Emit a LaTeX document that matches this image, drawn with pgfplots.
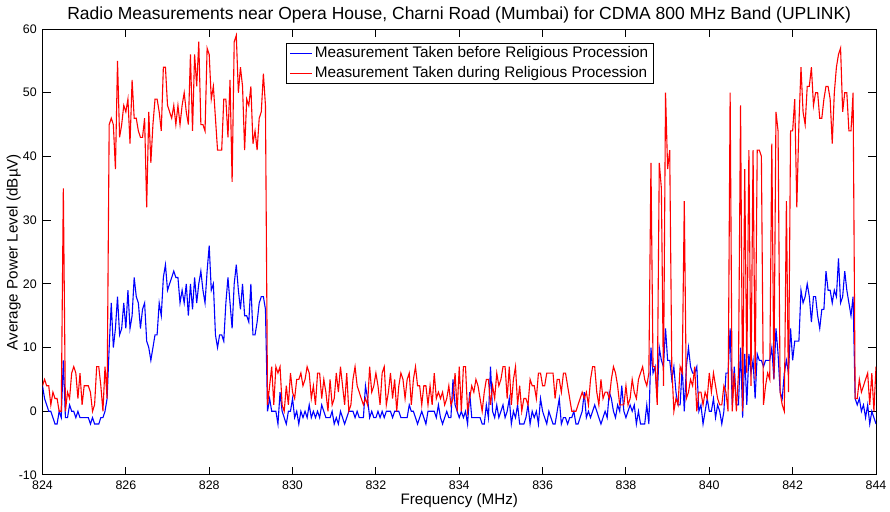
\documentclass[border=0pt]{standalone}
\usepackage{fontspec}
\setmainfont{Liberation Sans}
\usepackage{pgfplots}
\usepackage{pgfplotstable}
\pgfplotsset{compat=1.18}

% Measurement before the procession (blue), one value every 0.05 MHz from 824 MHz
\pgfplotstableread[row sep=\\]{
v\\
4\\2\\1\\0\\0\\-1\\-2\\-2\\0\\-1\\8\\-1\\-1\\1\\0\\0\\-1\\0\\-1\\-1\\-1\\-1\\-1\\-2\\-1\\-2\\-2\\-2\\-1\\-1\\0\\2\\
10\\17\\10\\13\\18\\12\\13\\17\\13\\19\\13\\15\\21\\18\\17\\13\\16\\17\\11\\10\\8\\10\\12\\12\\17\\15\\21\\23\\19\\
20\\
21\\22\\21\\21\\17\\19\\17\\20\\15\\20\\16\\21\\17\\20\\22\\19\\17\\22\\26\\19\\20\\12\\10\\12\\12\\11\\17\\21\\17\\13\\20\\23\\19\\16\\20\\15\\15\\14\\20\\12\\12\\14\\17\\18\\18\\16\\
0\\2\\0\\0\\0\\-2\\3\\0\\-1\\-2\\0\\0\\2\\-1\\0\\-2\\0\\-1\\0\\-1\\1\\-1\\0\\-1\\0\\-1\\1\\0\\-1\\-1\\-1\\0\\-2\\-1\\-2\\0\\-1\\-2\\-1\\0\\0\\0\\-1\\0\\
-1\\
-1\\-1\\4\\2\\-1\\0\\-1\\-1\\0\\-1\\0\\-1\\0\\0\\0\\-1\\0\\0\\0\\-1\\
-1\\-1\\-1\\1\\0\\0\\-1\\-2\\-1\\0\\-1\\-2\\0\\0\\0\\0\\-1\\1\\-1\\-2\\-1\\0\\-1\\-1\\5\\1\\0\\-1\\0\\-1\\0\\-2\\3\\-1\\-1\\-1\\-1\\-1\\-2\\-2\\1\\-1\\7\\0\\-1\\1\\-1\\0\\1\\-1\\0\\2\\-2\\0\\-1\\1\\-2\\-2\\-2\\-1\\1\\
-2\\0\\-1\\0\\-2\\2\\0\\-1\\-2\\0\\-1\\-2\\-2\\0\\2\\-2\\-1\\-1\\-2\\
-1\\
-1\\0\\-2\\-2\\-1\\0\\3\\-1\\0\\-1\\0\\1\\0\\-1\\-2\\-1\\0\\-1\\3\\2\\0\\-1\\1\\0\\4\\0\\-1\\0\\1\\0\\1\\-2\\0\\
-2\\-2\\-2\\1\\-2\\10\\6\\7\\2\\10\\8\\7\\13\\8\\8\\5\\7\\3\\1\\1\\7\\0\\7\\10\\7\\6\\6\\7\\0\\1\\-2\\0\\2\\0\\0\\2\\-1\\1\\0\\-2\\0\\6\\6\\13\\
1\\7\\1\\1\\10\\-1\\9\\1\\9\\6\\8\\2\\9\\8\\8\\7\\
8\\
8\\8\\10\\5\\13\\9\\3\\2\\6\\8\\6\\13\\8\\11\\11\\11\\19\\17\\18\\20\\18\\14\\18\\18\\15\\13\\16\\16\\22\\19\\19\\17\\19\\18\\24\\17\\18\\22\\19\\17\\15\\18\\2\\1\\2\\0\\1\\-1\\1\\-2\\0\\-1\\-2\\
}\bluetab

% Measurement during the procession (red)
\pgfplotstableread[row sep=\\]{
v\\
4\\5\\4\\4\\1\\3\\2\\2\\0\\0\\35\\0\\3\\2\\6\\7\\6\\2\\6\\1\\4\\4\\4\\3\\0\\1\\7\\7\\4\\0\\7\\2\\
45\\46\\45\\38\\55\\43\\45\\48\\47\\49\\42\\52\\46\\46\\44\\43\\43\\46\\32\\47\\39\\45\\49\\49\\47\\44\\54\\54\\48\\
47\\
46\\48\\45\\48\\45\\48\\50\\47\\45\\56\\44\\56\\51\\58\\45\\45\\44\\57\\56\\49\\51\\46\\41\\41\\41\\49\\49\\43\\52\\36\\58\\59\\50\\54\\51\\41\\49\\48\\51\\42\\44\\41\\46\\47\\53\\48\\
1\\4\\7\\1\\7\\6\\7\\1\\0\\4\\1\\6\\3\\2\\5\\5\\6\\4\\5\\7\\6\\2\\4\\1\\6\\6\\2\\5\\3\\0\\5\\1\\2\\6\\3\\7\\4\\1\\6\\0\\1\\5\\7\\4\\
3\\
2\\1\\2\\1\\7\\3\\4\\6\\4\\1\\6\\7\\1\\3\\6\\2\\5\\0\\4\\6\\
5\\2\\5\\6\\1\\5\\7\\4\\4\\1\\4\\4\\1\\4\\1\\6\\2\\3\\2\\3\\1\\2\\4\\1\\2\\6\\0\\7\\0\\7\\7\\0\\2\\4\\3\\5\\4\\2\\0\\3\\5\\5\\1\\4\\2\\6\\4\\5\\7\\7\\2\\7\\1\\5\\7\\1\\4\\0\\2\\2\\1\\
5\\4\\4\\2\\6\\6\\4\\4\\6\\6\\6\\6\\2\\5\\5\\3\\6\\6\\4\\
2\\
0\\0\\0\\1\\2\\3\\2\\3\\1\\5\\7\\7\\3\\1\\5\\2\\3\\3\\2\\5\\7\\6\\4\\1\\1\\1\\4\\1\\2\\5\\3\\2\\5\\
6\\7\\5\\4\\6\\39\\7\\7\\1\\39\\35\\4\\50\\38\\41\\7\\0\\2\\1\\7\\6\\33\\2\\3\\5\\4\\7\\0\\3\\3\\1\\3\\2\\6\\3\\6\\4\\2\\1\\1\\4\\3\\0\\50\\
0\\6\\0\\6\\48\\0\\38\\6\\41\\4\\41\\5\\41\\41\\40\\1\\
4\\
6\\5\\42\\5\\47\\44\\3\\1\\0\\33\\3\\44\\44\\49\\32\\45\\54\\47\\45\\51\\51\\54\\48\\50\\50\\46\\46\\49\\51\\51\\49\\42\\50\\54\\56\\57\\47\\50\\50\\44\\44\\50\\2\\2\\5\\3\\4\\5\\6\\1\\6\\0\\7\\
}\redtab

\begin{document}
\begin{tikzpicture}
\begin{axis}[
  scale only axis,
  width=416.75pt, height=223pt,
  xmin=824, xmax=844, ymin=-10, ymax=60,
  xtick={824,826,...,844},
  ytick={-10,0,...,60},
  tick align=inside,
  major tick length=4.2pt,
  tick style={black, line width=0.5pt},
  axis line style={black, line width=0.5pt},
  /pgf/number format/assume math mode=true,
  /pgf/number format/1000 sep={},
  ticklabel style={font=\fontsize{6.2}{7.5}\selectfont},
  xticklabel style={anchor=base, yshift=-7.2pt},
  yticklabel style={anchor=east, inner sep=0pt, xshift=-2.7pt},
  every axis title shift=0pt,
  title={Radio Measurements near Opera House, Charni Road (Mumbai) for CDMA 800 MHz Band (UPLINK)},
  title style={at={(axis description cs:0.5,1.0202)}, anchor=base, inner sep=0pt, font=\fontsize{8.75}{10}\selectfont},
  xlabel={Frequency (MHz)},
  xlabel style={at={(axis description cs:0.5,-0.0657)}, anchor=base, inner sep=0pt, font=\fontsize{7.6}{9}\selectfont},
  ylabel={Average Power Level (dBµV)},
  ylabel style={at={(axis description cs:-0.0345,0.5)}, anchor=center, rotate=0, inner sep=0pt, font=\fontsize{7.6}{9}\selectfont},
  legend style={at={(axis description cs:0.292,0.969)}, anchor=north west,
    draw=black, line width=0.5pt, fill=white,
    inner xsep=1.6pt, inner ysep=0.3pt, row sep=0pt,
    font=\fontsize{7.65}{9}\selectfont,
    nodes={inner xsep=1pt, inner ysep=1.4pt}},
  legend cell align=left,
  legend image code/.code={\draw[#1, line width=0.6pt] (0pt,0pt) -- (11pt,0pt);},
]
\addplot[blue, line width=0.55pt] table[x expr={824+0.05*\coordindex}, y=v] {\bluetab};
\addlegendentry{Measurement Taken before Religious Procession}
\addplot[red, line width=0.55pt] table[x expr={824+0.05*\coordindex}, y=v] {\redtab};
\addlegendentry{Measurement Taken during Religious Procession}
\end{axis}
\pgfresetboundingbox
\path[use as bounding box] (-21.25pt,-18.5pt) rectangle (423.75pt,237.5pt);
\end{tikzpicture}
\end{document}
